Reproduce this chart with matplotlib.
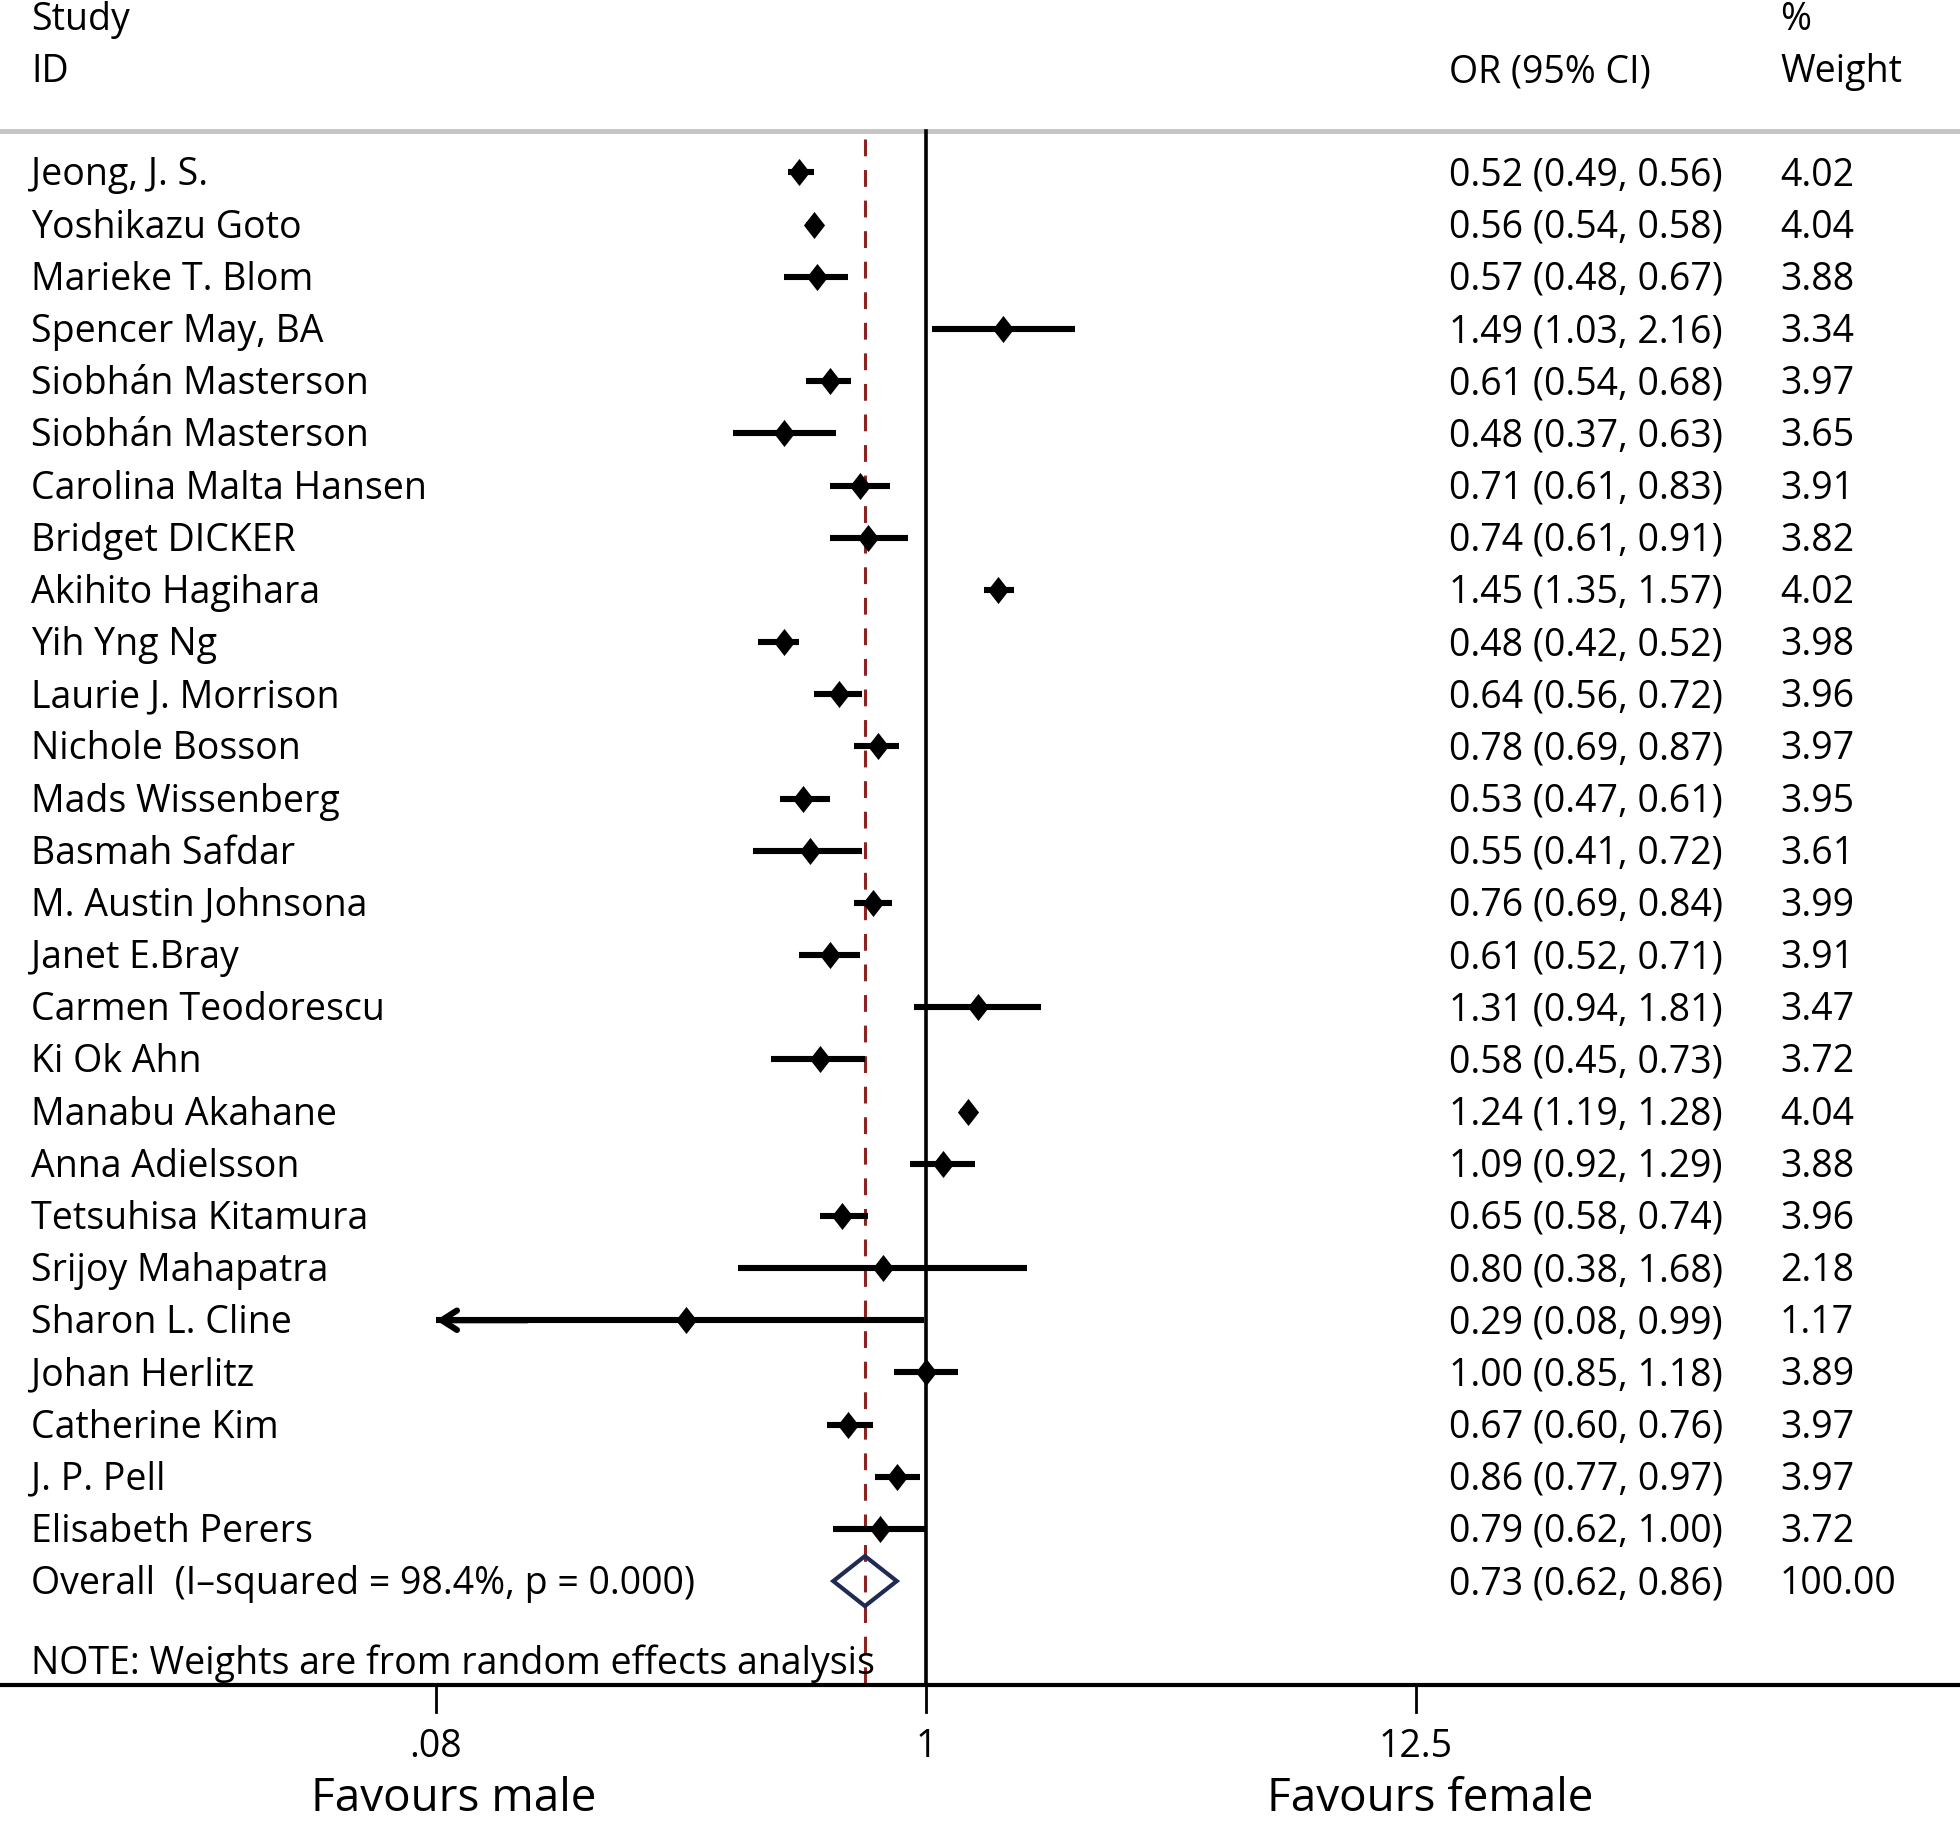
import numpy as np
import matplotlib
matplotlib.use("Agg")
import matplotlib.pyplot as plt
from matplotlib.patches import Polygon

plt.rcParams['font.family'] = ['Open Sans', 'DejaVu Sans']

# --- data ---
studies = ["Jeong, J. S.", "Yoshikazu Goto", "Marieke T. Blom", "Spencer May, BA",
           "Siobhán Masterson", "Siobhán Masterson", "Carolina Malta Hansen",
           "Bridget DICKER", "Akihito Hagihara", "Yih Yng Ng", "Laurie J. Morrison",
           "Nichole Bosson", "Mads Wissenberg", "Basmah Safdar", "M. Austin Johnsona",
           "Janet E.Bray", "Carmen Teodorescu", "Ki Ok Ahn", "Manabu Akahane",
           "Anna Adielsson", "Tetsuhisa Kitamura", "Srijoy Mahapatra", "Sharon L. Cline",
           "Johan Herlitz", "Catherine Kim", "J. P. Pell", "Elisabeth Perers"]
odds = [0.52, 0.56, 0.57, 1.49, 0.61, 0.48, 0.71, 0.74, 1.45, 0.48, 0.64, 0.78, 0.53,
        0.55, 0.76, 0.61, 1.31, 0.58, 1.24, 1.09, 0.65, 0.80, 0.29, 1.00, 0.67, 0.86, 0.79]
ci_lo = [0.49, 0.54, 0.48, 1.03, 0.54, 0.37, 0.61, 0.61, 1.35, 0.42, 0.56, 0.69, 0.47,
         0.41, 0.69, 0.52, 0.94, 0.45, 1.19, 0.92, 0.58, 0.38, 0.08, 0.85, 0.60, 0.77, 0.62]
ci_hi = [0.56, 0.58, 0.67, 2.16, 0.68, 0.63, 0.83, 0.91, 1.57, 0.52, 0.72, 0.87, 0.61,
         0.72, 0.84, 0.71, 1.81, 0.73, 1.28, 1.29, 0.74, 1.68, 0.99, 1.18, 0.76, 0.97, 1.00]
weights = [4.02, 4.04, 3.88, 3.34, 3.97, 3.65, 3.91, 3.82, 4.02, 3.98, 3.96, 3.97, 3.95,
           3.61, 3.99, 3.91, 3.47, 3.72, 4.04, 3.88, 3.96, 2.18, 1.17, 3.89, 3.97, 3.97, 3.72]
overall_or, overall_lo, overall_hi = 0.73, 0.62, 0.86
overall_label = "Overall  (I\u2013squared = 98.4%, p = 0.000)"
x_min = 0.08          # lower display limit (arrow when CI reaches it)
tick_vals = [0.08, 1, 12.5]
tick_labels = [".08", "1", "12.5"]

W, H = 1960, 1826
fig = plt.figure(figsize=(W / 100, H / 100), dpi=100)
ax = fig.add_axes([0, 0, 1, 1])
ax.set_axis_off()

# pixel layout: x=1 at 926px, 194 px per log unit; row i at 172.5 + 52.17*i px
px_per_log = 194.0
x1_px = 926.0
ax.set_xscale("log")
ax.set_xlim(np.exp(-x1_px / px_per_log), np.exp((W - x1_px) / px_per_log))
row0, row_h = 172.5, 52.17
ax.set_ylim((H - row0) / row_h, -row0 / row_h)

n = len(studies)
y_overall = n
y_axis = n + 2.0
y_gray = -0.8

def px(v):
    return v / row_h

fs = 27
black = "black"
tr = ax.get_yaxis_transform()
x_id, x_or, x_wt = 31 / W, 1449 / W, 1780 / W
dy = px(3)  # small downward nudge for text

# header
ax.text(x_id, -2.98 + dy, "Study", transform=tr, fontsize=fs, va="center")
ax.text(x_id, -1.98 + dy, "ID", transform=tr, fontsize=fs, va="center")
ax.text(x_or, -1.98 + dy, "OR (95% CI)", transform=tr, fontsize=fs, va="center")
ax.text(x_wt, -2.98 + dy, "%", transform=tr, fontsize=fs, va="center")
ax.text(x_wt, -1.98 + dy, "Weight", transform=tr, fontsize=fs, va="center")

# top gray line and axis line
ax.axhline(y_gray, color="#c4c4c4", lw=3.5, zorder=1)
ax.axhline(y_axis, color=black, lw=3.0, zorder=3)

# null line and overall dashed line
ax.plot([1, 1], [y_gray, y_axis], color=black, lw=2.6, zorder=2)
ax.plot([overall_or, overall_or], [y_gray + px(8), y_axis], color="#8b2323", lw=2.2,
        dashes=(5.5, 4.5), zorder=2)

diamond = [(0, 1), (0.78, 0), (0, -1), (-0.78, 0)]
yy = np.arange(n)
for i in range(n):
    lo = max(ci_lo[i], x_min)
    ax.plot([lo, ci_hi[i]], [yy[i], yy[i]], color=black, lw=4.4, solid_capstyle="butt", zorder=4)
    if ci_lo[i] <= x_min:
        ax.annotate("", xy=(x_min, yy[i]), xytext=(x_min * 1.6, yy[i]),
                    arrowprops=dict(arrowstyle="->,head_length=1.1,head_width=0.7",
                                    lw=4.4, color=black, shrinkA=0, shrinkB=0), zorder=4)
    ax.plot(odds[i], yy[i], marker=diamond, color=black, ms=19.5, mew=0, zorder=5)
    ax.text(x_id, yy[i] + dy, studies[i], transform=tr, fontsize=fs, va="center")
    ax.text(x_or, yy[i] + dy, f"{odds[i]:.2f} ({ci_lo[i]:.2f}, {ci_hi[i]:.2f})",
            transform=tr, fontsize=fs, va="center")
    ax.text(x_wt, yy[i] + dy, f"{weights[i]:.2f}", transform=tr, fontsize=fs, va="center")

# overall diamond
h = px(25)
poly = Polygon([(overall_lo, y_overall), (overall_or, y_overall - h),
                (overall_hi, y_overall), (overall_or, y_overall + h)],
               closed=True, fill=False, edgecolor="#1f2a55", lw=3.0, zorder=5)
ax.add_patch(poly)
ax.text(x_id, y_overall + dy, overall_label, transform=tr, fontsize=fs, va="center")
ax.text(x_or, y_overall + dy, f"{overall_or:.2f} ({overall_lo:.2f}, {overall_hi:.2f})",
        transform=tr, fontsize=fs, va="center")
ax.text(x_wt, y_overall + dy, "100.00", transform=tr, fontsize=fs, va="center")

ax.text(x_id, y_axis - px(25) + dy, "NOTE: Weights are from random effects analysis",
        transform=tr, fontsize=fs, va="center")

# ticks
for v, lab in zip(tick_vals, tick_labels):
    ax.plot([v, v], [y_axis, y_axis + px(27)], color=black, lw=2.0, zorder=3)
    ax.text(v, y_axis + px(62), lab, fontsize=fs, ha="center", va="center")

ax.text(np.exp(-(x1_px - 454) / px_per_log), y_axis + px(114), "Favours male",
        fontsize=33, ha="center", va="center")
ax.text(np.exp((1430 - x1_px) / px_per_log), y_axis + px(114), "Favours female",
        fontsize=33, ha="center", va="center")

fig.savefig("out.png", dpi=100, facecolor="white")
